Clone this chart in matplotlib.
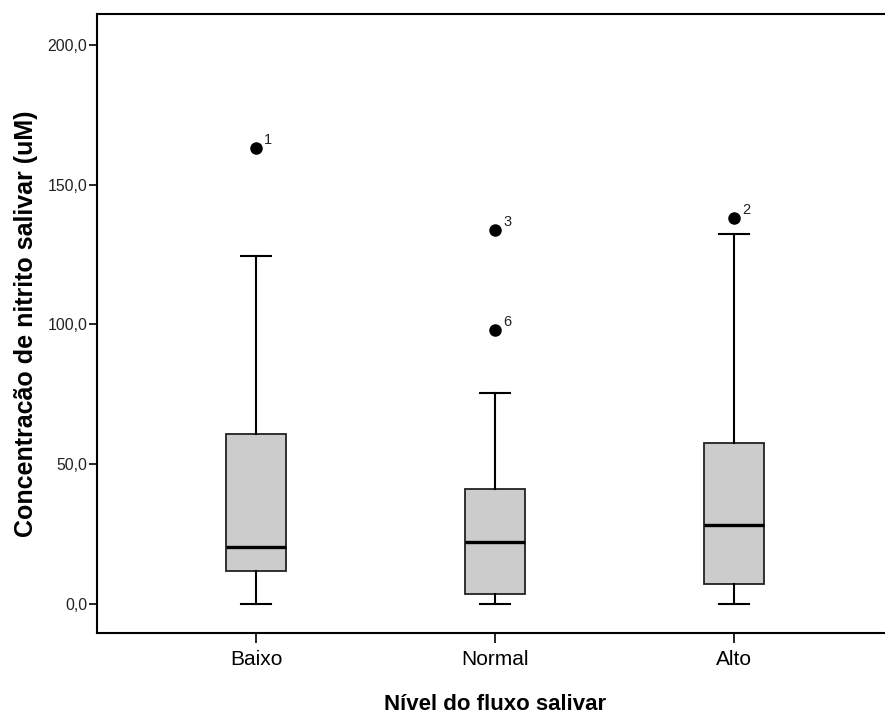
import matplotlib.pyplot as plt

# values
niveis = ['Baixo', 'Normal', 'Alto']
minimo = [0.0, 0.0, 0.0]
q1 = [11.8, 3.5, 7.0]
mediana = [20.4, 22.2, 28.3]
q3 = [60.8, 40.9, 57.4]
maximo = [124.5, 75.6, 132.5]
outliers = [[163.2], [133.8, 98.1], [138.1]]
outlier_ids = [['1'], ['3', '6'], ['2']]

plt.rcParams['font.family'] = ['Liberation Sans', 'DejaVu Sans']

stats = []
for i, nome in enumerate(niveis):
    stats.append({'label': nome, 'whislo': minimo[i], 'q1': q1[i], 'med': mediana[i],
                  'q3': q3[i], 'whishi': maximo[i], 'fliers': outliers[i]})

fig = plt.figure(figsize=(8.85, 7.13), dpi=100)
# right spine falls just outside the picture, as in the original
ax = fig.add_axes([97 / 885, 80 / 713, 796 / 885, 619 / 713])

ax.bxp(stats, positions=[1, 2, 3], widths=0.25, patch_artist=True,
       boxprops=dict(facecolor='#cccccc', edgecolor='#222222', linewidth=1.3),
       medianprops=dict(color='black', linewidth=2.4),
       whiskerprops=dict(color='black', linewidth=1.5),
       capprops=dict(color='black', linewidth=1.5),
       capwidths=0.125,
       flierprops=dict(marker='o', markerfacecolor='black', markeredgecolor='black', markersize=8))

for i in range(len(niveis)):
    for v, lab in zip(outliers[i], outlier_ids[i]):
        ax.annotate(lab, (i + 1, v), xytext=(6, 3), textcoords='offset points',
                    fontsize=10.5, color='#222222')

ax.set_xlim(0.335, 3.665)
ax.set_ylim(-10.5, 211.2)
ax.set_yticks([0, 50, 100, 150, 200])
ax.set_yticklabels(['0,0', '50,0', '100,0', '150,0', '200,0'], fontsize=11.4, color='#222222')
ax.set_xticks([1, 2, 3])
ax.set_xticklabels(niveis, fontsize=15)
ax.tick_params(axis='y', length=6, width=1.2, pad=1)
ax.tick_params(axis='x', length=7, width=1.2, pad=5)
for s in ax.spines.values():
    s.set_linewidth(1.5)

ax.set_ylabel('Concentracão de nitrito salivar (uM)', fontsize=18, fontweight='bold', labelpad=7)
ax.set_xlabel('Nível do fluxo salivar', fontsize=16, fontweight='bold', labelpad=18)

fig.savefig('out.png', dpi=100)
